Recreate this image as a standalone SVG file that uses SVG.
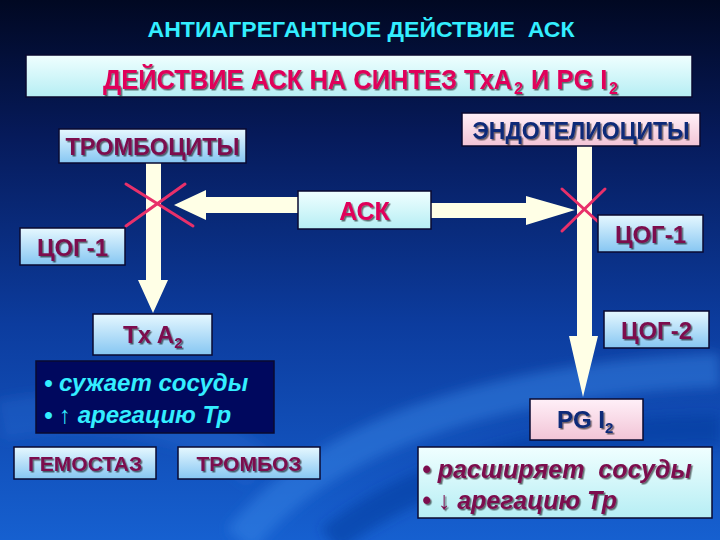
<svg xmlns="http://www.w3.org/2000/svg" width="720" height="540" viewBox="0 0 720 540">
<defs>
<linearGradient id="bg" x1="0" y1="0" x2="0" y2="1">
<stop offset="0" stop-color="#010822"/>
<stop offset="0.25" stop-color="#061a5a"/>
<stop offset="0.6" stop-color="#0c3c9e"/>
<stop offset="1" stop-color="#1660d0"/>
</linearGradient>
<linearGradient id="blueBox" x1="0" y1="0" x2="0" y2="1">
<stop offset="0" stop-color="#e6f8ff"/>
<stop offset="1" stop-color="#86c6f2"/>
</linearGradient>
<linearGradient id="pinkBox" x1="0" y1="0" x2="0" y2="1">
<stop offset="0" stop-color="#fff0f8"/>
<stop offset="1" stop-color="#f2c4d6"/>
</linearGradient>
<linearGradient id="cyanBox" x1="0" y1="0" x2="0" y2="1">
<stop offset="0" stop-color="#f0ffff"/>
<stop offset="1" stop-color="#b6eef4"/>
</linearGradient>
<filter id="sh" x="-10%" y="-20%" width="130%" height="150%">
<feDropShadow dx="1.5" dy="1.5" stdDeviation="0.4" flood-color="#000000" flood-opacity="0.55"/>
</filter>
<filter id="blur" x="-20%" y="-20%" width="140%" height="140%">
<feGaussianBlur stdDeviation="6"/>
</filter>
</defs>
<style>
.b{font-family:"Liberation Sans",Arial,sans-serif;font-weight:bold}
.box{stroke:#0a0a30;stroke-width:1.5}
.mar{fill:#7c0c4e}
.nav{fill:#102a78}
.red{fill:#e0005a}
.arrow{fill:#ffffe6}
.x{stroke:#e8306a;stroke-width:3;stroke-linecap:round}
.cy{fill:#33eeff}
</style>
<rect width="720" height="540" fill="url(#bg)"/>
<g fill="none" filter="url(#blur)">
<path d="M240 540 C 320 440, 480 380, 720 370" stroke="#3a8ae8" stroke-opacity="0.45" stroke-width="34"/>
<path d="M330 540 C 420 470, 560 430, 720 430" stroke="#0a3a9a" stroke-opacity="0.5" stroke-width="30"/>
<path d="M0 420 C 100 400, 200 420, 260 470" stroke="#2a78e0" stroke-opacity="0.25" stroke-width="40"/>
</g>
<text class="b cy" x="361" y="37" font-size="22" text-anchor="middle" textLength="427" lengthAdjust="spacingAndGlyphs">АНТИАГРЕГАНТНОЕ ДЕЙСТВИЕ&#160; АСК</text>
<g id="banner">
<rect class="box" x="26" y="55" width="666" height="42" fill="url(#cyanBox)"/>
<g class="b red" filter="url(#sh)">
<text x="103" y="0" font-size="25.5" transform="translate(0 89) scale(1 1.12)">ДЕЙСТВИЕ АСК НА СИНТЕЗ TxA</text>
<text x="514" y="94" font-size="16">2</text>
<text x="531" y="0" font-size="25.5" transform="translate(0 89) scale(1 1.12)">И PG I</text>
<text x="609" y="94" font-size="16">2</text>
</g>
</g>
<g id="connectors">
<path class="arrow" d="M146 163 H161 V280 H168 L153 313 L138 280 H146 Z"/>
<path class="arrow" d="M298 197 V213 H206 V220 L174 205 L206 190 V197 Z"/>
<path class="arrow" d="M431 203 H526 V196 L575 210 L526 225 V218 H431 Z"/>
<path class="arrow" d="M577 146 H592 V336 H598 L583 397 L569 336 H577 Z"/>
<line class="x" x1="126" y1="184" x2="193" y2="226"/>
<line class="x" x1="126" y1="226" x2="185" y2="184"/>
<line class="x" x1="562" y1="189" x2="605" y2="228"/>
<line class="x" x1="562" y1="231" x2="605" y2="189"/>
</g>
<g id="trombocity">
<rect class="box" x="59" y="129" width="187" height="34" fill="url(#blueBox)"/>
<text class="b mar" x="152.5" y="155" font-size="23.5" text-anchor="middle" filter="url(#sh)">ТРОМБОЦИТЫ</text>
</g>
<g id="endotel">
<rect class="box" x="462" y="113" width="238" height="33" fill="url(#pinkBox)"/>
<text class="b nav" x="581" y="139" font-size="23" text-anchor="middle" filter="url(#sh)">ЭНДОТЕЛИОЦИТЫ</text>
</g>
<g id="ask">
<rect class="box" x="298" y="191" width="133" height="38" fill="url(#cyanBox)"/>
<text class="b red" x="364.5" y="220" font-size="25" text-anchor="middle" filter="url(#sh)">АСК</text>
</g>
<g id="cog1-left">
<rect class="box" x="20" y="228" width="105" height="37" fill="url(#blueBox)"/>
<text class="b mar" x="72.5" y="256" font-size="24" text-anchor="middle" filter="url(#sh)">ЦОГ-1</text>
</g>
<g id="cog1-right">
<rect class="box" x="598" y="215" width="105" height="37" fill="url(#blueBox)"/>
<text class="b mar" x="650.5" y="243" font-size="24" text-anchor="middle" filter="url(#sh)">ЦОГ-1</text>
</g>
<g id="cog2">
<rect class="box" x="604" y="311" width="105" height="37" fill="url(#blueBox)"/>
<text class="b mar" x="656.5" y="339" font-size="24" text-anchor="middle" filter="url(#sh)">ЦОГ-2</text>
</g>
<g id="txa2">
<rect class="box" x="93" y="314" width="119" height="41" fill="url(#blueBox)"/>
<text class="b mar" x="123" y="343" font-size="24" filter="url(#sh)">Tx A<tspan font-size="15" dy="5">2</tspan></text>
</g>
<g id="pgi2">
<rect class="box" x="530" y="399" width="113" height="41" fill="url(#pinkBox)"/>
<text class="b nav" x="557" y="428" font-size="24" filter="url(#sh)">PG I<tspan font-size="15" dy="5">2</tspan></text>
</g>
<g id="effects-left">
<rect class="box" x="36" y="361" width="238" height="72" fill="#00085e"/>
<text class="b cy" font-size="24" font-style="italic"><tspan x="44" y="391">• сужает сосуды</tspan><tspan x="44" y="423">• ↑ арегацию Тр</tspan></text>
</g>
<g id="gemostaz">
<rect class="box" x="14" y="447" width="142" height="32" fill="url(#blueBox)"/>
<text class="b mar" x="85" y="471" font-size="21" text-anchor="middle" filter="url(#sh)">ГЕМОСТАЗ</text>
</g>
<g id="tromboz">
<rect class="box" x="178" y="447" width="142" height="32" fill="url(#blueBox)"/>
<text class="b mar" x="249" y="471" font-size="21" text-anchor="middle" filter="url(#sh)">ТРОМБОЗ</text>
</g>
<g id="effects-right">
<rect class="box" x="418" y="447" width="294" height="71" fill="url(#cyanBox)"/>
<text class="b mar" font-size="25" font-style="italic" filter="url(#sh)"><tspan x="422" y="478">• расширяет&#160; сосуды</tspan><tspan x="422" y="509">• ↓ арегацию Тр</tspan></text>
</g>
</svg>
